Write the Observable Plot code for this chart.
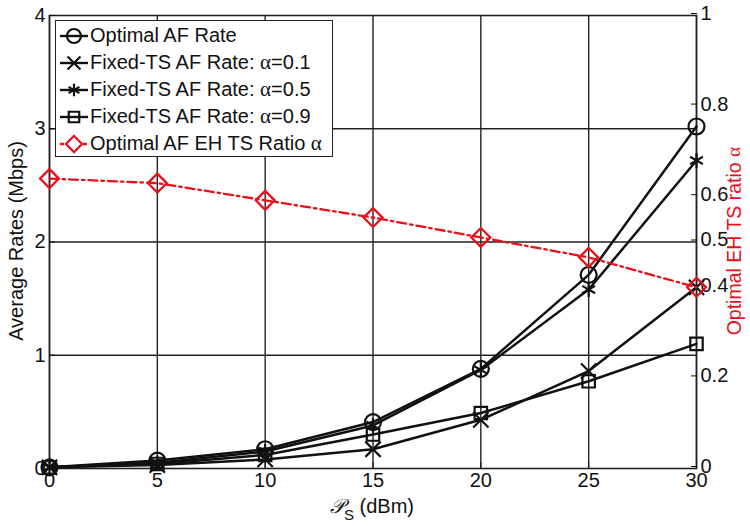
<!DOCTYPE html>
<html>
<head>
<meta charset="utf-8">
<script src="https://cdn.jsdelivr.net/npm/d3@7"></script>
<script src="https://cdn.jsdelivr.net/npm/@observablehq/plot@0.6"></script>
<style>
  html, body { margin: 0; padding: 0; background: white; overflow: hidden; }
  #wrap { position: relative; width: 750px; height: 526px; font-family: "Liberation Sans", Arial, sans-serif; }
  #legend { position: absolute; left: 55px; top: 20px; width: 278px; height: 137px; border: 1.6px solid #222; background: white; box-sizing: border-box; padding-top: 1px; }
  .row { display: flex; align-items: center; height: 27px; font-size: 20px; color: #111; white-space: pre; }
  .row span { white-space: pre; }
  .row svg { margin-left: 3px; margin-right: 1px; flex: none; }
  .al { font-family: "Liberation Serif", "DejaVu Serif", serif; font-size: 21px; }
</style>
</head>
<body>
<div id="wrap"></div>
<script>
// ---- data ----
const ps = [0, 5, 10, 15, 20, 25, 30];                       // P_S (dBm)
const optimalRate = [0.01, 0.07, 0.17, 0.41, 0.88, 1.71, 3.02]; // Mbps
const rateAlpha01 = [0.01, 0.03, 0.08, 0.17, 0.43, 0.86, 1.60];
const rateAlpha05 = [0.01, 0.05, 0.15, 0.38, 0.87, 1.58, 2.72];
const rateAlpha09 = [0.01, 0.04, 0.12, 0.30, 0.49, 0.77, 1.10];
const optimalRatio = [0.64, 0.63, 0.592, 0.554, 0.51, 0.466, 0.40]; // right axis
const xTicks = [0, 5, 10, 15, 20, 25, 30];
const leftTicks = [0, 1, 2, 3, 4];
const rightTicks = [0, 0.2, 0.4, 0.5, 0.6, 0.8, 1];
const leftMax = 4, rightMax = 1;

const k = leftMax / rightMax;
const rows = ps.map((p, i) => ({
  p, opt: optimalRate[i], a01: rateAlpha01[i], a05: rateAlpha05[i],
  a09: rateAlpha09[i], ratio: optimalRatio[i] * k
}));

const series = [
  {key: "opt", symbol: "circle", r: 8},
  {key: "a01", symbol: "times", r: 7},
  {key: "a05", symbol: "asterisk", r: 7},
  {key: "a09", symbol: "square", r: 7},
];

const fmt = d3.format("~g");
const marks = [
  Plot.gridX(xTicks, {stroke: "#222", strokeOpacity: 1, strokeWidth: 1.4}),
  Plot.gridY([1, 2, 3], {stroke: "#222", strokeOpacity: 1, strokeWidth: 1.4}),
  Plot.frame({stroke: "#222", strokeWidth: 1.6}),
  Plot.axisX(xTicks, {tickSize: -6, tickPadding: 10, label: null, fontSize: 20}),
  Plot.axisY(leftTicks, {anchor: "left", tickSize: -6, tickPadding: 10, label: null, fontSize: 20, tickFormat: fmt}),
  Plot.axisY(rightTicks.map(v => v * k), {anchor: "right", tickSize: -6, tickPadding: 10, label: null, fontSize: 20, dy: -2,
    tickFormat: d => fmt(+(d / k).toFixed(3))}),
];
for (const s of series) {
  marks.push(Plot.line(rows, {x: "p", y: s.key, stroke: "#111", strokeWidth: 2.5}));
  marks.push(Plot.dot(rows, {x: "p", y: s.key, symbol: s.symbol, r: s.r, stroke: "#111", strokeWidth: 2.2, fill: "none"}));
}
marks.push(Plot.line(rows, {x: "p", y: "ratio", stroke: "#e8101a", strokeWidth: 2.3, strokeDasharray: "9,4,2.5,4"}));
marks.push(Plot.dot(rows, {x: "p", y: "ratio", symbol: "diamond2", r: 8.5, stroke: "#e8101a", strokeWidth: 2.3, fill: "none"}));

const chart = Plot.plot({
  width: 750, height: 526,
  marginLeft: 49, marginRight: 54, marginTop: 15, marginBottom: 58,
  x: {domain: [0, 30]},
  y: {domain: [0, leftMax]},
  style: {fontFamily: "'Liberation Sans', Arial, sans-serif", fontSize: "20px", background: "white", color: "#111"},
  marks
});
document.getElementById("wrap").appendChild(chart);

// axis titles
const svg = d3.select(chart);
svg.append("text").attr("transform", "translate(18,241) rotate(-90)")
  .attr("text-anchor", "middle").attr("dominant-baseline", "middle").attr("font-size", 20).attr("fill", "#111")
  .text("Average Rates (Mbps)");
const rt = svg.append("text").attr("transform", "translate(736,241) rotate(-90)")
  .attr("text-anchor", "middle").attr("dominant-baseline", "middle").attr("font-size", 19.5).attr("fill", "#e8101a");
rt.append("tspan").text("Optimal EH TS ratio ");
rt.append("tspan").attr("font-family", "'Liberation Serif', serif").text("α");
const xl = svg.append("text").attr("x", 372).attr("y", 513).attr("text-anchor", "middle").attr("font-size", 20).attr("fill", "#111");
xl.append("tspan").attr("font-family", "'DejaVu Serif', serif").attr("font-style", "italic").text("𝒫");
xl.append("tspan").attr("font-size", 15).attr("dy", 7).text("S");
xl.append("tspan").attr("dy", -7).text(" (dBm)");

// legend (HTML overlay)
const legendItems = [
  {label: "Optimal AF Rate", alpha: null, symbol: "circle", color: "#111", dash: null},
  {label: "Fixed-TS AF Rate: ", alpha: "=0.1", symbol: "times", color: "#111", dash: null},
  {label: "Fixed-TS AF Rate: ", alpha: "=0.5", symbol: "asterisk", color: "#111", dash: null},
  {label: "Fixed-TS AF Rate: ", alpha: "=0.9", symbol: "square", color: "#111", dash: null},
  {label: "Optimal AF EH TS Ratio ", alpha: "", symbol: "diamond2", color: "#e8101a", dash: "4,3,1.5,3"},
];
const symMap = {circle: d3.symbolCircle, times: d3.symbolTimes, asterisk: d3.symbolAsterisk, square: d3.symbolSquare, diamond2: d3.symbolDiamond2};
const lg = d3.select("#wrap").append("div").attr("id", "legend");
for (const it of legendItems) {
  const row = lg.append("div").attr("class", "row");
  const s = row.append("svg").attr("width", 30).attr("height", 22);
  s.append("line").attr("x1", 1).attr("x2", 29).attr("y1", 11).attr("y2", 11)
    .attr("stroke", it.color).attr("stroke-width", 2.4).attr("stroke-dasharray", it.dash);
  const sz = it.symbol === "circle" ? Math.PI * 7 * 7 : it.symbol === "diamond2" ? 2 * 8 * 8 * 1.3 : 2 * 6.5 * 6.5 * 1.3;
  s.append("path").attr("transform", "translate(15,11)").attr("d", d3.symbol(symMap[it.symbol], sz)())
    .attr("fill", it.symbol === "diamond2" ? "white" : "none").attr("stroke", it.color).attr("stroke-width", 2.2);
  row.append("span").text(it.label);
  if (it.alpha !== null) {
    row.append("span").attr("class", "al").text("α");
    if (it.alpha) row.append("span").text(it.alpha);
  }
}
</script>
</body>
</html>
